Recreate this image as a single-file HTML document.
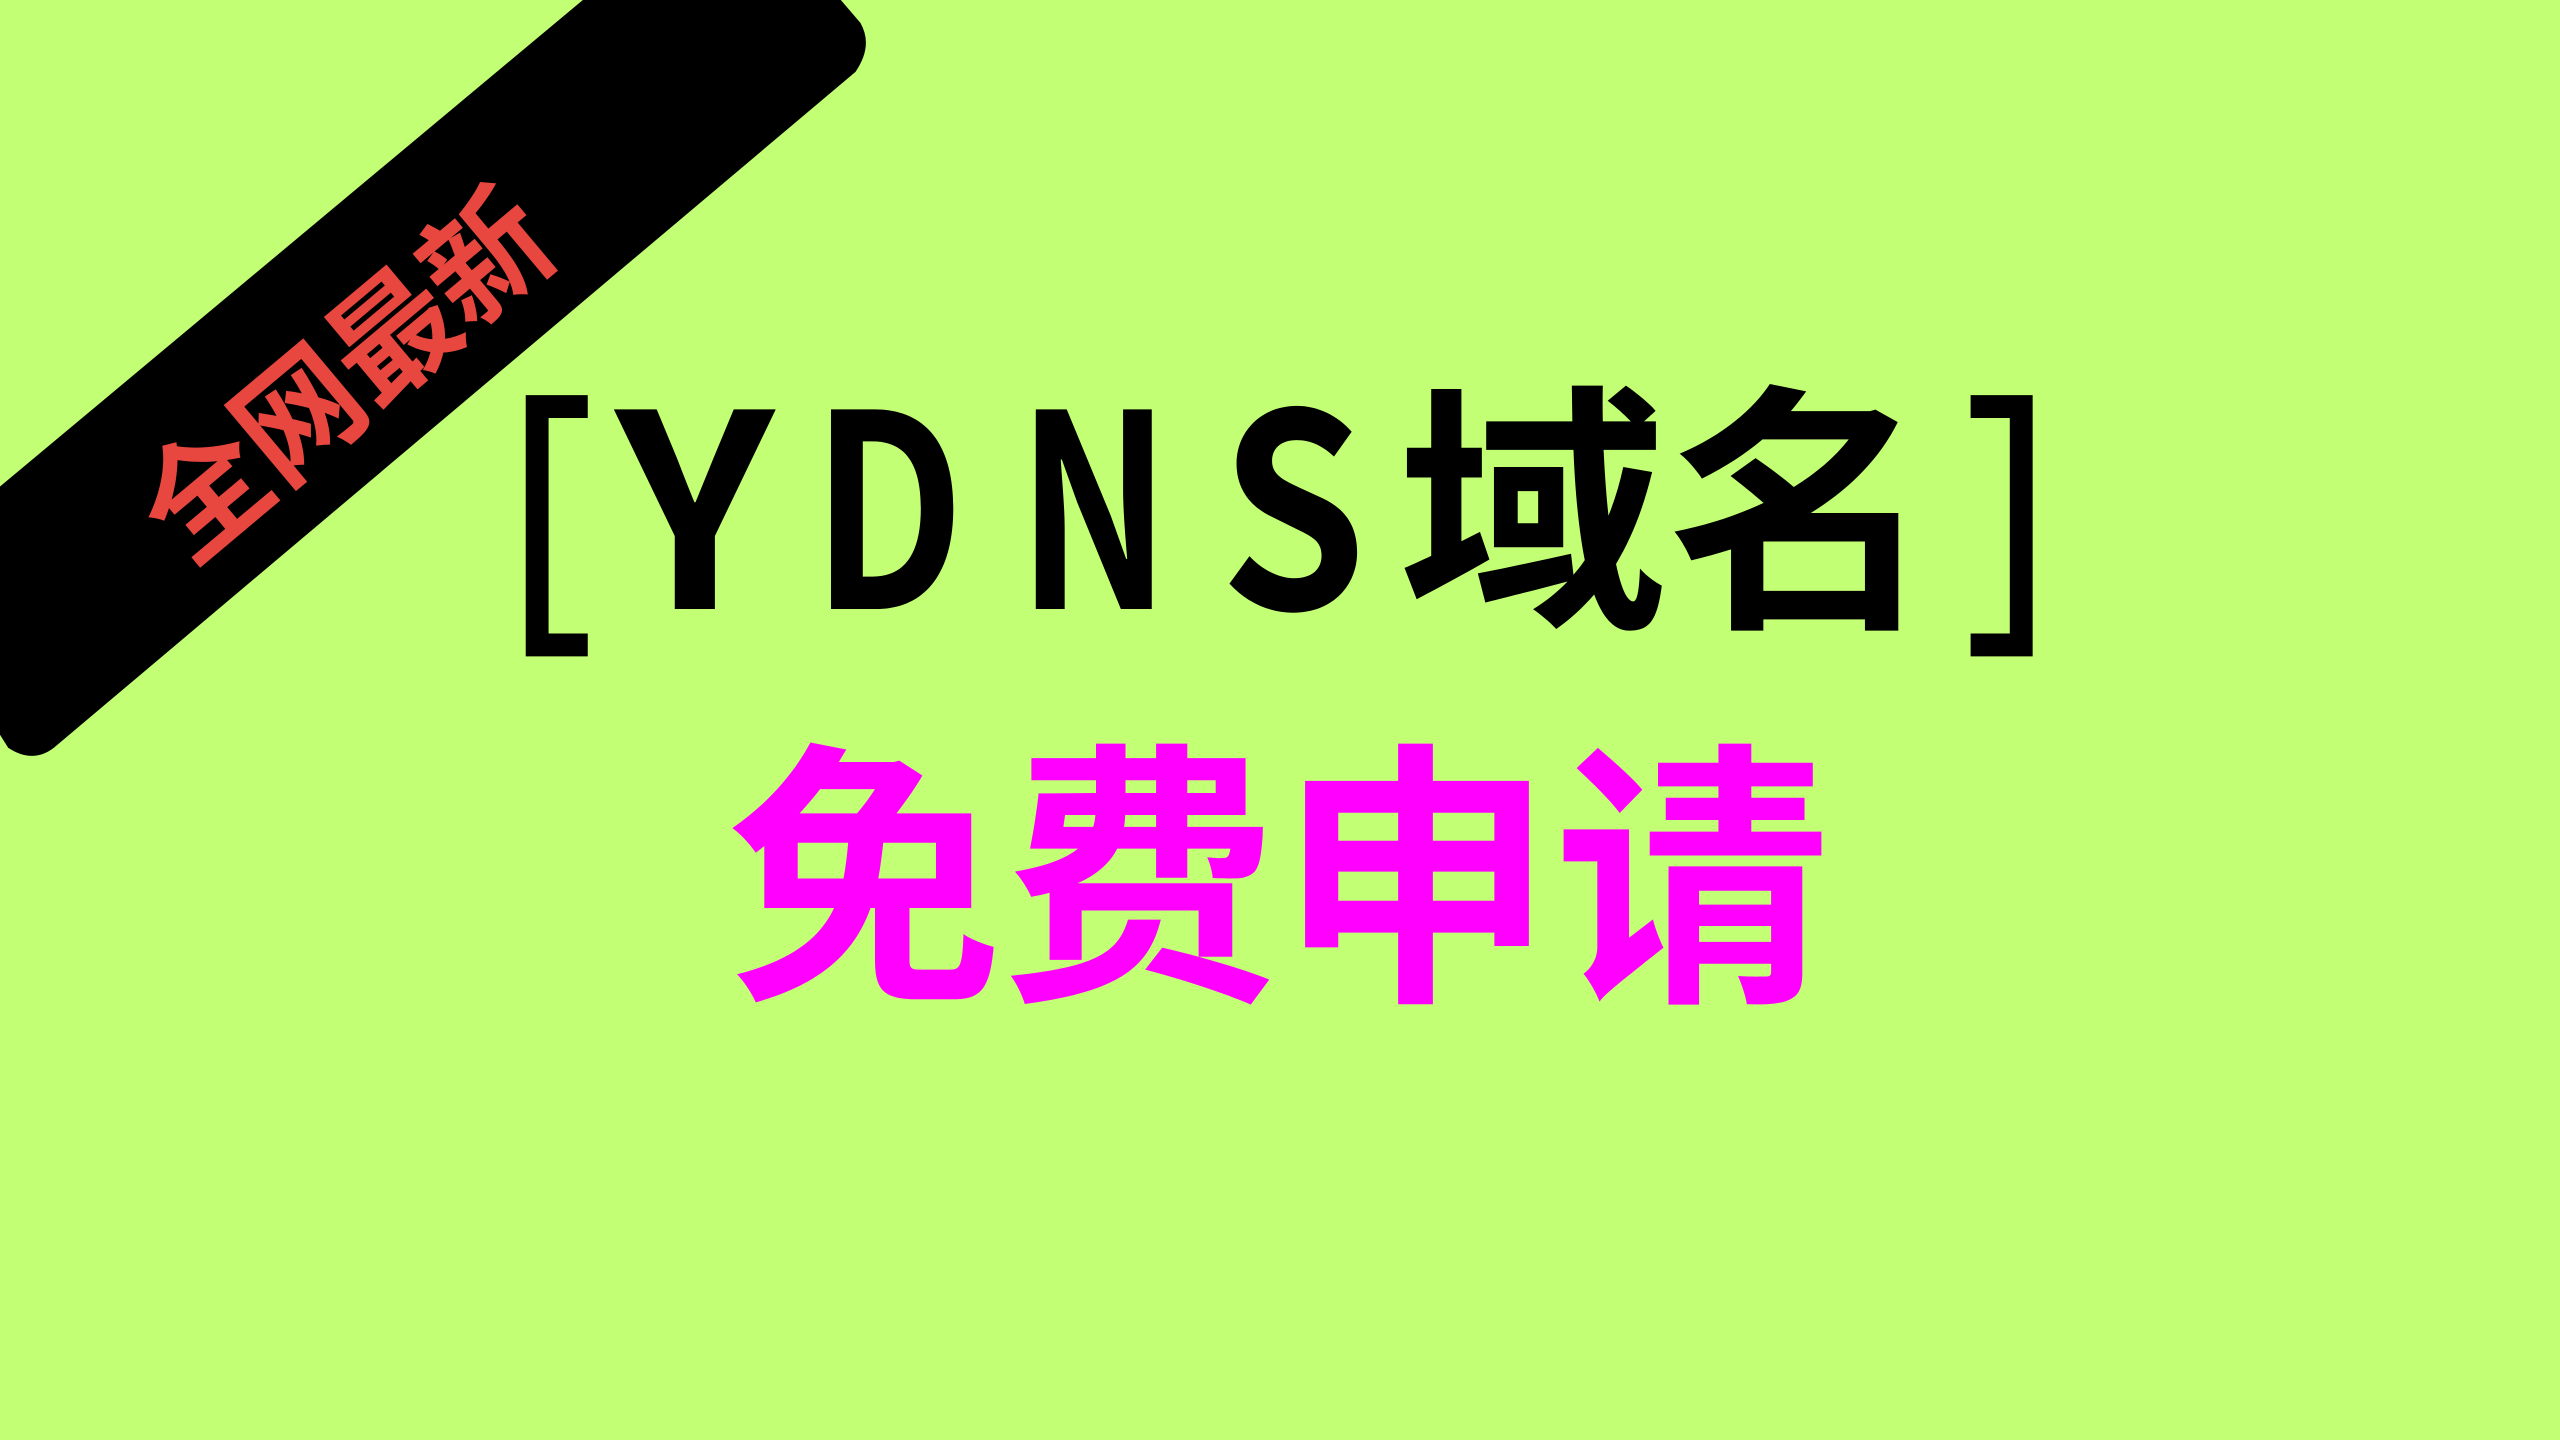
<!DOCTYPE html>
<html>
<head>
<meta charset="utf-8">
<style>
  html,body{margin:0;padding:0;width:2560px;height:1440px;overflow:hidden;background:#c3ff74;}
  svg{display:block;}
  .c{font-family:"Noto Sans CJK SC","WenQuanYi Zen Hei",sans-serif;font-weight:700;}
</style>
</head>
<body>
<svg width="2560" height="1440" viewBox="0 0 1568 882" xmlns="http://www.w3.org/2000/svg">
  <rect x="0" y="0" width="1568" height="882" fill="#c3ff74"/>
  <path d="M357,0 L515,0 L527,14 Q535,28 524,44 L33,458 Q20,468 5,458 L0,450 L0,298 Z" fill="#000"/>
  <text class="c" x="208" y="225" font-size="78" fill="#e8473f" text-anchor="middle" dominant-baseline="central" textLength="300" lengthAdjust="spacingAndGlyphs" transform="rotate(-40 208 225)">全网最新</text>

  <g>
    <path d="M322,242 L360,242 L360,256 L336,256 L336,388 L360,388 L360,402 L322,402 Z" fill="#000"/>
    <text class="c" x="377" y="373" font-size="165" fill="#000" textLength="97" lengthAdjust="spacingAndGlyphs">Y</text>
    <text class="c" x="497" y="373" font-size="165" fill="#000" textLength="94" lengthAdjust="spacingAndGlyphs">D</text>
    <text class="c" x="623" y="373" font-size="165" fill="#000" textLength="94" lengthAdjust="spacingAndGlyphs">N</text>
    <text class="c" x="747" y="373" font-size="165" fill="#000" textLength="90" lengthAdjust="spacingAndGlyphs">S</text>
    <text class="c" x="856" y="372" font-size="160" fill="#000" textLength="330" lengthAdjust="spacingAndGlyphs">域名</text>
    <path d="M1207,242 L1245,242 L1245,402 L1207,402 L1207,388 L1231,388 L1231,256 L1207,256 Z" fill="#000"/>
  </g>

  <text class="c" x="445" y="600" font-size="170" fill="#ff00ff" textLength="676" lengthAdjust="spacingAndGlyphs">免费申请</text>
</svg>
</body>
</html>
